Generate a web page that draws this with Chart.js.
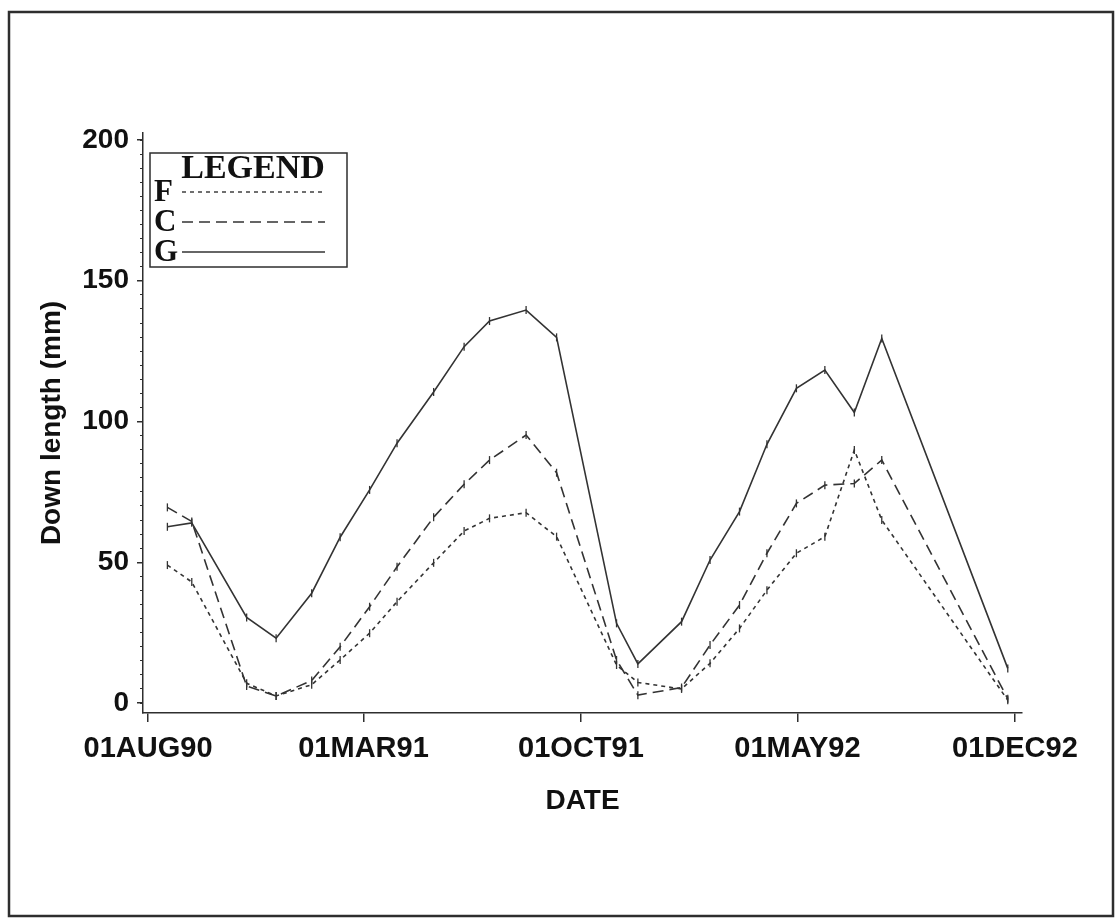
<!DOCTYPE html>
<html>
<head>
<meta charset="utf-8">
<script src="https://cdn.jsdelivr.net/npm/chart.js@4.4.7/dist/chart.umd.min.js"></script>
<style>
  html, body { margin: 0; padding: 0; background: #fff; }
  #wrap { width: 1118px; height: 920px; position: relative; }
</style>
</head>
<body>
<div id="wrap"><canvas id="chart"></canvas></div>
<script>
// sample dates
const sampleDates = [
  '1990-08-20', '1990-09-13', '1990-11-06', '1990-12-05', '1991-01-09', '1991-02-06',
  '1991-03-07', '1991-04-03', '1991-05-09', '1991-06-08', '1991-07-03', '1991-08-08',
  '1991-09-07', '1991-11-05', '1991-11-26', '1992-01-08', '1992-02-05', '1992-03-05',
  '1992-04-01', '1992-04-30', '1992-05-28', '1992-06-26', '1992-07-23', '1992-11-24',
];
const seriesF = [49.0, 43.0, 7.0, 2.5, 6.5, 15.3, 24.8, 36.0, 49.8, 61.1, 65.6, 67.6,
  59.1, 13.5, 7.3, 5.0, 14.1, 26.5, 40.1, 53.2, 59.1, 89.9, 65.0, 1.0];
const seriesC = [69.5, 64.5, 6.0, 2.5, 8.0, 20.0, 34.2, 48.4, 66.0, 77.7, 86.3, 95.2,
  81.8, 15.3, 2.8, 5.5, 20.6, 34.8, 53.2, 70.9, 77.4, 78.0, 86.3, 1.5];
const seriesG = [62.6, 64.0, 30.4, 23.0, 39.0, 58.9, 75.7, 92.3, 110.5, 126.6, 135.7, 139.6,
  129.9, 28.3, 13.9, 28.9, 50.8, 68.0, 91.9, 111.8, 118.3, 103.2, 129.5, 12.3];

const xTickDates = ['1990-08-01', '1991-03-01', '1991-10-01', '1992-05-01', '1992-12-01'];
const xTickLabels = ['01AUG90', '01MAR91', '01OCT91', '01MAY92', '01DEC92'];
const yTicks = [0, 50, 100, 150, 200];

const ORIGIN = Date.UTC(1990, 7, 1);
function dayOf(s) {
  return (Date.UTC(+s.slice(0, 4), +s.slice(5, 7) - 1, +s.slice(8, 10)) - ORIGIN) / 864e5;
}
const toPoints = (vals) => sampleDates.map((d, i) => ({ x: dayOf(d), y: vals[i] }));

const INK = '#2e2e2e';
const TEXT = '#111';
const SANS = '"Liberation Sans", Arial, sans-serif';
const SERIF = '"Liberation Serif", "Times New Roman", serif';

const framePlugin = {
  id: 'frame',
  beforeDraw(chart) {
    const ctx = chart.ctx;
    ctx.save();
    ctx.fillStyle = '#fff';
    ctx.fillRect(0, 0, chart.width, chart.height);
    ctx.strokeStyle = INK;
    ctx.lineWidth = 2.5;
    ctx.strokeRect(9, 12, 1104, 904);
    ctx.restore();
  },
};

// boxed legend in the top-left corner of the plot
const legendBox = {
  id: 'legendBox',
  afterDraw(chart) {
    const ctx = chart.ctx;
    const left = chart.chartArea.left + 7;
    const top = 153;
    ctx.save();
    ctx.strokeStyle = INK;
    ctx.lineWidth = 1.5;
    ctx.strokeRect(left, top, 197, 114);
    ctx.fillStyle = TEXT;
    ctx.font = `bold 34px ${SERIF}`;
    ctx.textAlign = 'center';
    ctx.textBaseline = 'middle';
    ctx.fillText('LEGEND', left + 103, top + 16);
    ctx.font = `bold 31px ${SERIF}`;
    ctx.textAlign = 'left';
    chart.data.datasets.forEach((ds, i) => {
      const y = top + 39 + i * 30;
      ctx.fillStyle = TEXT;
      ctx.fillText(ds.label, left + 4, y + 1);
      ctx.strokeStyle = ds.borderColor;
      ctx.lineWidth = 1.4;
      ctx.setLineDash(ds.borderDash || []);
      ctx.beginPath();
      ctx.moveTo(left + 32, y);
      ctx.lineTo(left + 175, y);
      ctx.stroke();
    });
    ctx.restore();
  },
};

const common = {
  borderColor: '#333',
  borderWidth: 1.6,
  pointStyle: 'line',
  pointRotation: 90,
  pointRadius: 4,
  pointBorderWidth: 1.3,
  pointBorderColor: '#333',
  tension: 0,
  fill: false,
};

new Chart(document.getElementById('chart'), {
  type: 'line',
  data: {
    datasets: [
      { ...common, label: 'F', data: toPoints(seriesF), borderDash: [4, 4] },
      { ...common, label: 'C', data: toPoints(seriesC), borderDash: [11, 6] },
      { ...common, label: 'G', data: toPoints(seriesG) },
    ],
  },
  options: {
    responsive: true,
    maintainAspectRatio: false,
    animation: false,
    layout: { padding: { left: 10, right: 96, top: 133, bottom: 0 } },
    plugins: { legend: { display: false }, tooltip: { enabled: false } },
    scales: {
      x: {
        type: 'linear',
        min: -5,
        max: 860,
        afterBuildTicks: (s) => { s.ticks = xTickDates.map((d) => ({ value: dayOf(d) })); },
        afterFit: (s) => { s.height = 207; },
        ticks: {
          autoSkip: false,
          maxRotation: 0,
          padding: 10,
          color: TEXT,
          font: { family: SANS, size: 29, weight: 'bold' },
          callback: (_v, i) => xTickLabels[i],
        },
        grid: { drawOnChartArea: false, drawTicks: true, tickLength: 9, color: INK, lineWidth: 1.5 },
        border: { display: true, color: INK, width: 1.5 },
        title: {
          display: true,
          text: 'DATE',
          color: TEXT,
          font: { family: SANS, size: 28, weight: 'bold', lineHeight: 1 },
          padding: { top: 0, bottom: 105 },
        },
      },
      y: {
        type: 'linear',
        position: 'left',
        weight: 1,
        min: -3.55,
        max: 202.5,
        afterBuildTicks: (s) => { s.ticks = yTicks.map((v) => ({ value: v })); },
        afterFit: (s) => { s.width = 133; },
        ticks: {
          padding: 8,
          color: TEXT,
          font: { family: SANS, size: 28, weight: 'bold' },
        },
        grid: { drawOnChartArea: false, drawTicks: true, tickLength: 6, color: INK, lineWidth: 1.5 },
        border: { display: true, color: INK, width: 1.5 },
        title: {
          display: true,
          text: 'Down length (mm)',
          color: TEXT,
          font: { family: SANS, size: 28, weight: 'bold', lineHeight: 1 },
          padding: { top: 28, bottom: 0 },
        },
      },
      yMinor: {
        type: 'linear',
        position: 'left',
        weight: 0,
        min: -3.55,
        max: 202.5,
        afterBuildTicks: (s) => { s.ticks = s.ticks.filter((t) => t.value >= 0 && t.value <= 200); },
        afterFit: (s) => { s.width = 0; },
        ticks: { stepSize: 5, includeBounds: false, display: false },
        grid: { drawOnChartArea: false, drawTicks: true, tickLength: 3, color: INK, lineWidth: 1 },
        border: { display: false },
      },
    },
  },
  plugins: [framePlugin, legendBox],
});
</script>
</body>
</html>
